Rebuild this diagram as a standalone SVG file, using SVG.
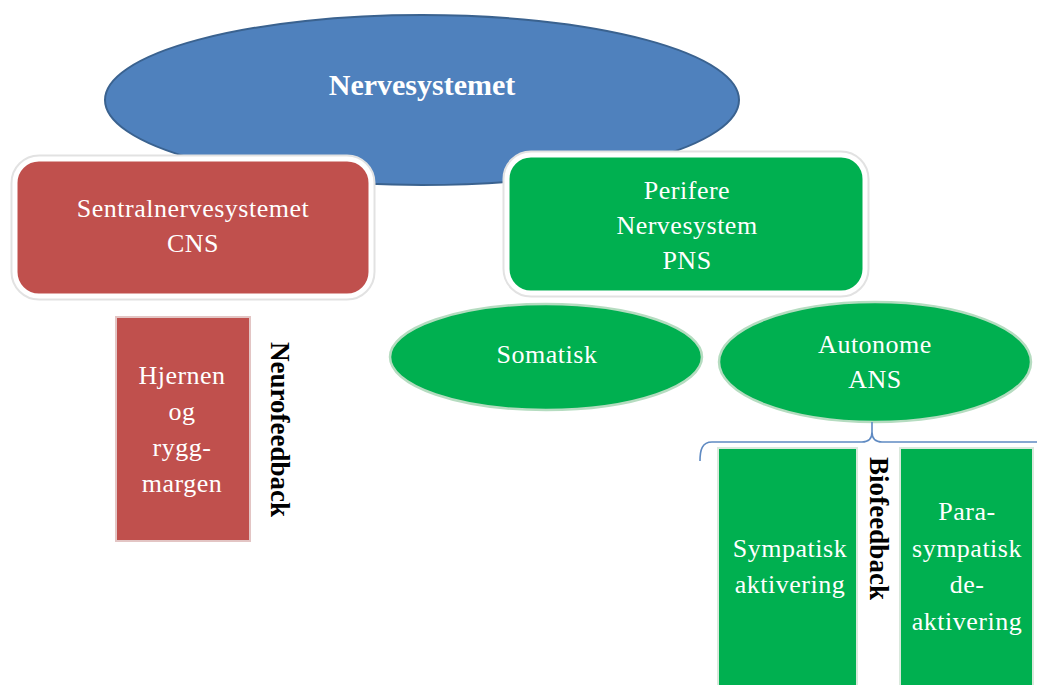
<svg xmlns="http://www.w3.org/2000/svg" width="1037" height="685" viewBox="0 0 1037 685">
<style>
.t{font-family:"Liberation Serif","Times New Roman",serif;font-size:26px;fill:#ffffff;text-anchor:middle;letter-spacing:0.5px}
.v{font-family:"Liberation Serif","Times New Roman",serif;font-size:27px;font-weight:bold;fill:#000000}
.halo{fill:none;stroke:#e2e2e2;stroke-width:9}
.box{stroke:#ffffff;stroke-width:5}
.red{fill:#C0504D}
.green{fill:#00B050}
.thin{stroke:#d9e9dc;stroke-width:2}
.ell{stroke:#b5dcc0;stroke-width:2.5}
.link{fill:none;stroke:#5f8ac2;stroke-width:1.6}
</style>
<rect width="1037" height="685" fill="#ffffff"/>
<g id="nervesystemet">
<ellipse cx="422" cy="100" rx="317" ry="85" fill="#4F81BD" stroke="#3A628F" stroke-width="2"/>
<text x="422" y="95" font-family="Liberation Serif,Times New Roman,serif" font-size="30" font-weight="bold" fill="#ffffff" text-anchor="middle">Nervesystemet</text>
</g>
<g id="cns">
<rect class="halo" x="15" y="159" width="356" height="137" rx="24"/>
<rect class="red box" x="15" y="159" width="356" height="137" rx="24"/>
<text class="t" x="193" y="217" letter-spacing="1">Sentralnervesystemet</text>
<text class="t" x="193" y="252">CNS</text>
</g>
<g id="pns">
<rect class="halo" x="507" y="155" width="358" height="138" rx="24"/>
<rect class="green box" x="507" y="155" width="358" height="138" rx="24"/>
<text class="t" x="687" y="199">Perifere</text>
<text class="t" x="687" y="234">Nervesystem</text>
<text class="t" x="687" y="269">PNS</text>
</g>
<g id="hjernen">
<rect class="red" x="116" y="317" width="134" height="224" stroke="#e3c5c4" stroke-width="2"/>
<text class="t" x="182" y="384">Hjernen</text>
<text class="t" x="182" y="420">og</text>
<text class="t" x="182" y="456">rygg-</text>
<text class="t" x="182" y="492">margen</text>
</g>
<g id="neurofeedback">
<text class="v" transform="translate(271,342) rotate(90)" textLength="175" lengthAdjust="spacing">Neurofeedback</text>
</g>
<g id="somatisk">
<ellipse class="green ell" cx="546" cy="357" rx="156" ry="53"/>
<text class="t" x="547" y="363">Somatisk</text>
</g>
<g id="autonome">
<ellipse class="green ell" cx="875" cy="362" rx="156" ry="60"/>
<text class="t" x="875" y="353">Autonome</text>
<text class="t" x="875" y="388">ANS</text>
</g>
<g id="connectors">
<path class="link" d="M 700 461 C 700 450 702 442 712 442 L 862 442 Q 872 442 872 432 L 872 422 M 872 432 Q 872 442 882 442 L 1037 442"/>
</g>
<g id="sympatisk">
<rect class="green thin" x="718" y="448" width="139" height="245"/>
<text class="t" x="790" y="557">Sympatisk</text>
<text class="t" x="790" y="593">aktivering</text>
</g>
<g id="biofeedback">
<text class="v" transform="translate(870,457) rotate(90)" textLength="143" lengthAdjust="spacing">Biofeedback</text>
</g>
<g id="parasympatisk">
<rect class="green thin" x="900" y="448" width="133" height="245"/>
<text class="t" x="967" y="520">Para-</text>
<text class="t" x="967" y="557">sympatisk</text>
<text class="t" x="967" y="593">de-</text>
<text class="t" x="967" y="630">aktivering</text>
</g>
</svg>
